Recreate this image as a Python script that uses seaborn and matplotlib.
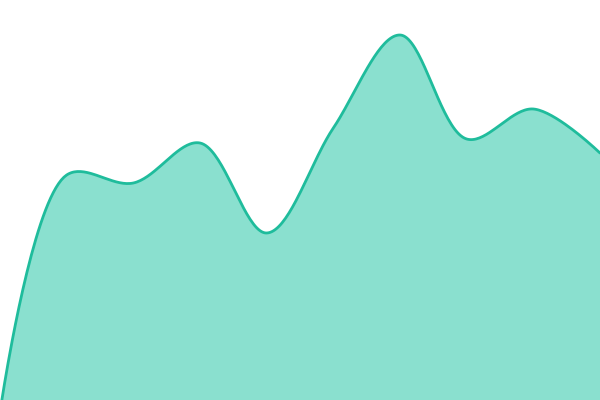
import numpy as np
import pandas as pd
import seaborn as sns
import matplotlib
matplotlib.use("Agg")
import matplotlib.pyplot as plt

# data points (equally spaced), heights on a 0-400 scale
steps = [0, 1, 2, 3, 4, 5, 6, 7, 8, 9]
values = [-12, 225, 217, 257, 167, 272, 365, 261, 291, 247]

LINE = "#1fbc9c"
FILL = "#8ae0cf"


def catmull_rom(px, py, alpha=0.5, n=40):
    # centripetal catmull-rom, drawn as cubic beziers (endpoints duplicated)
    P = np.column_stack([px, py]).astype(float)
    P = np.vstack([P[0], P, P[-1]])
    out = []
    for i in range(1, len(P) - 2):
        p0, p1, p2, p3 = P[i - 1], P[i], P[i + 1], P[i + 2]
        d01 = np.linalg.norm(p1 - p0)
        d12 = np.linalg.norm(p2 - p1)
        d23 = np.linalg.norm(p3 - p2)
        l01a, l12a, l23a = d01**alpha, d12**alpha, d23**alpha
        l01b, l12b, l23b = d01**(2 * alpha), d12**(2 * alpha), d23**(2 * alpha)
        c1, c2 = p1.copy(), p2.copy()
        if l01a > 1e-9:
            a = 2 * l01b + 3 * l01a * l12a + l12b
            m = 3 * l01a * (l01a + l12a)
            c1 = (p1 * a - p0 * l12b + p2 * l01b) / m
        if l23a > 1e-9:
            b = 2 * l23b + 3 * l23a * l12a + l12b
            m = 3 * l23a * (l23a + l12a)
            c2 = (p2 * b + p1 * l23b - p3 * l12b) / m
        t = np.linspace(0, 1, n)[:, None]
        seg = ((1 - t)**3 * p1 + 3 * (1 - t)**2 * t * c1
               + 3 * (1 - t) * t**2 * c2 + t**3 * p2)
        out.append(seg if i == 1 else seg[1:])
    out = np.vstack(out)
    return out[:, 0], out[:, 1]


# work in pixel units so the curve shape follows the screen geometry
W, H = 600, 400
xs = np.array(steps) * W / (len(steps) - 1)
sx, sy = catmull_rom(xs, values)
curve = pd.DataFrame({"x": sx, "y": sy})

sns.set_style("white")
fig = plt.figure(figsize=(6, 4), dpi=100)
ax = fig.add_axes([0, 0, 1, 1])
ax.fill_between(curve["x"], curve["y"], -50, color=FILL, linewidth=0)
sns.lineplot(data=curve, x="x", y="y", color=LINE, linewidth=2.0, ax=ax, sort=False)
ax.set_xlim(0, W)
ax.set_ylim(0, H)
ax.axis("off")
fig.savefig("out.png", dpi=100)
